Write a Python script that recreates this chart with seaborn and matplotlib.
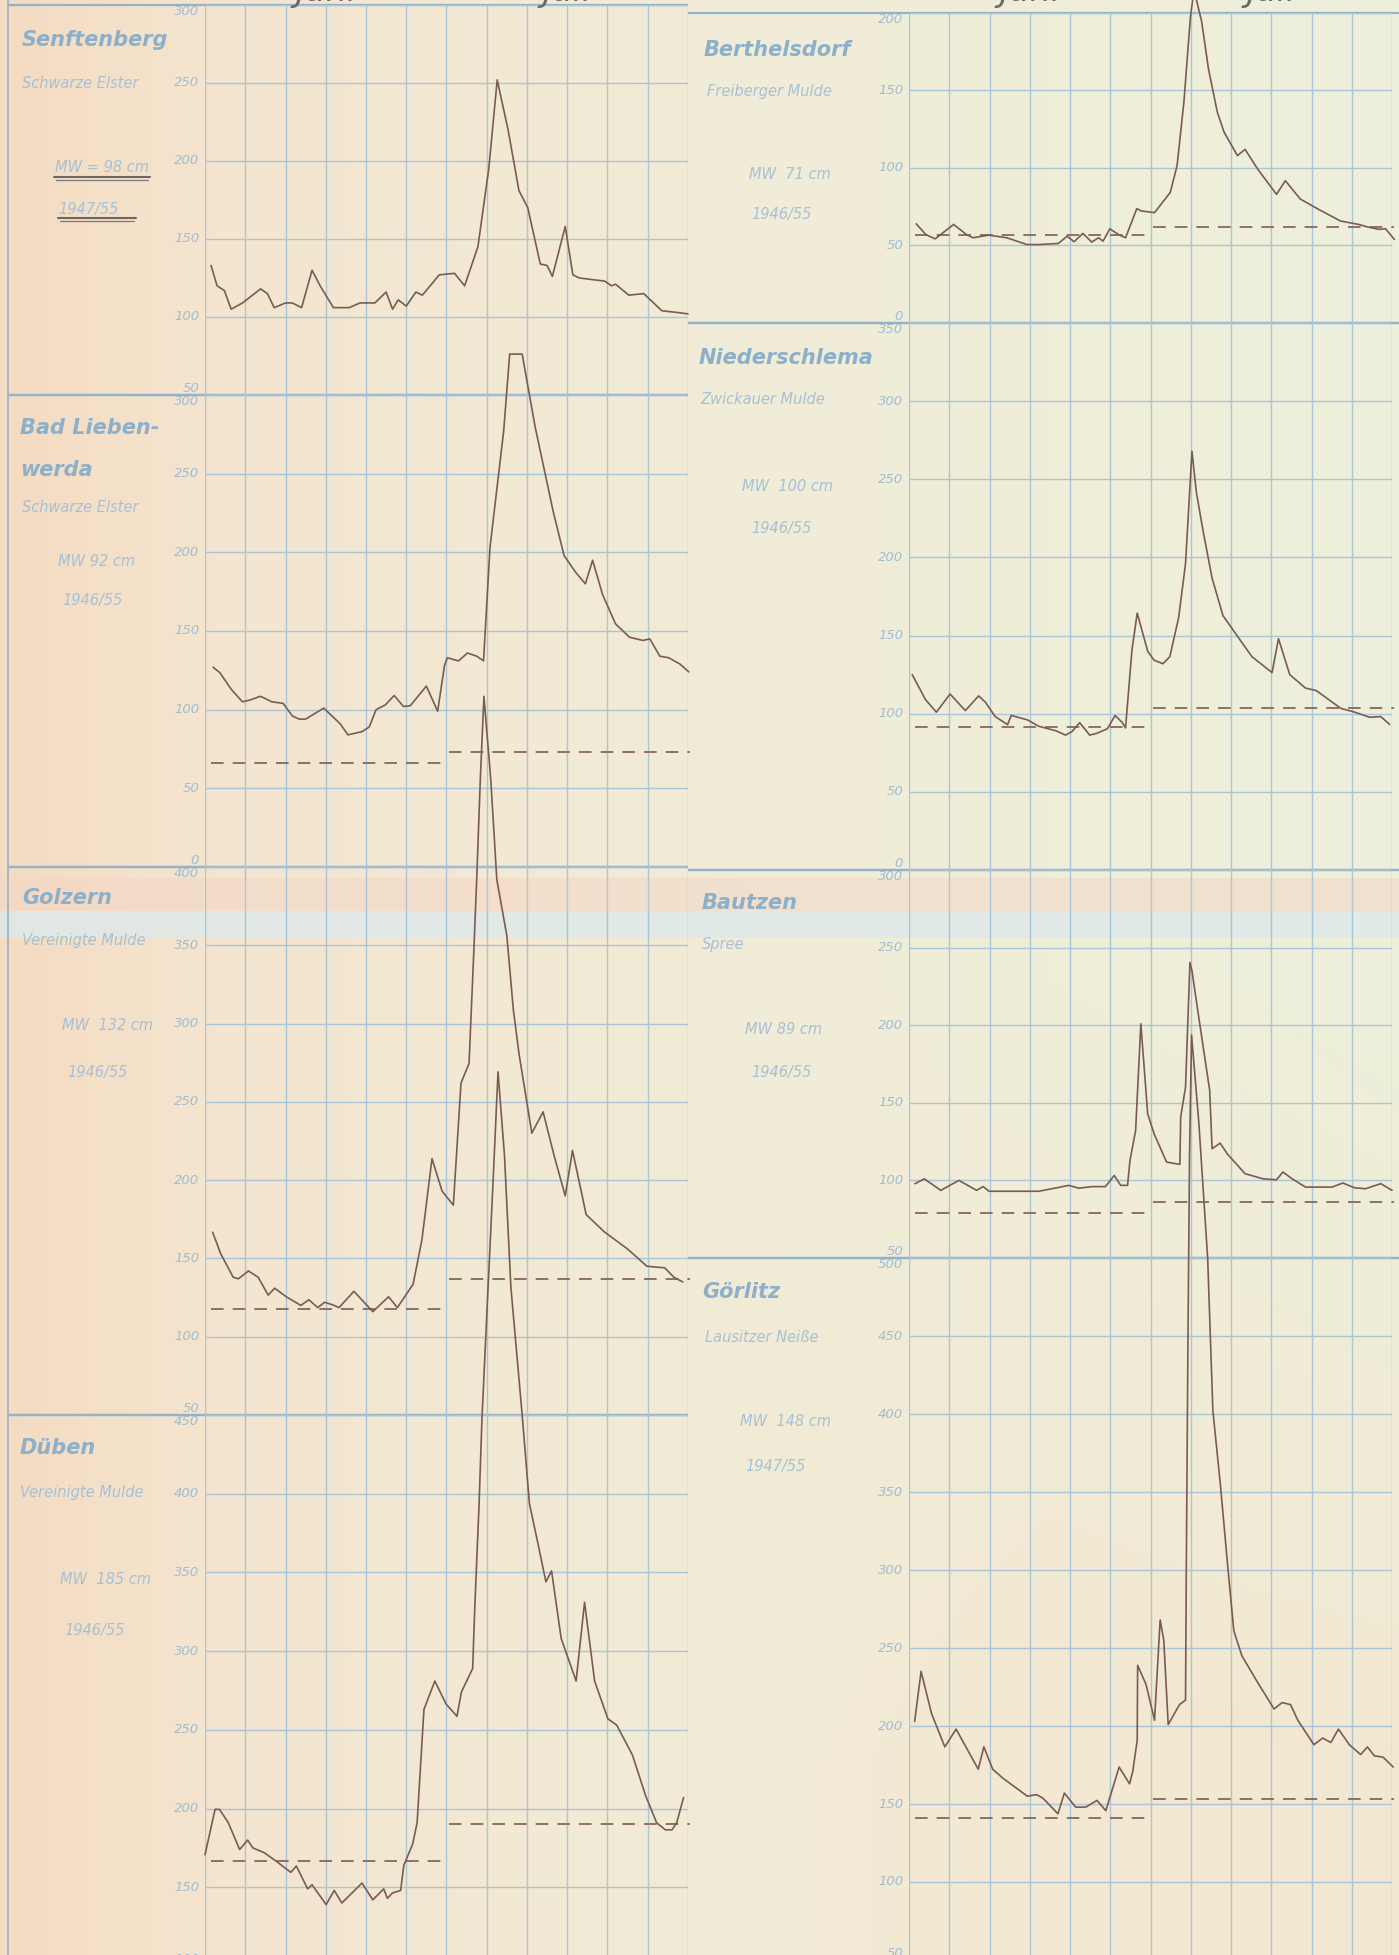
import numpy as np
import matplotlib
matplotlib.use("Agg")
import matplotlib.pyplot as plt
import seaborn as sns

# Wasserstaende Juni/Juli 1954
# x = Pentaden (5-Tage-Abschnitte) ab 1. Juni, y = Wasserstand am Pegel in cm

senftenberg_x = [0.15, 0.3, 0.48, 0.65, 0.93, 1.38, 1.55, 1.72, 2.0, 2.17, 2.4, 2.66, 2.86, 3.19, 3.58,
                 3.85, 4.22, 4.5, 4.66, 4.8, 5.0, 5.24, 5.4, 5.82, 6.2, 6.45, 6.78, 7.05, 7.26, 7.53,
                 7.8, 8.02, 8.33, 8.5, 8.63, 8.95, 9.14, 9.3, 9.93, 10.1, 10.2, 10.53, 10.9, 11.35, 11.7, 12.0]
senftenberg_y = [133, 120, 117, 105, 109, 118, 115, 106, 109, 109, 106, 130, 120, 106, 106,
                 109, 109, 116, 105, 111, 107, 116, 114, 127, 128, 120, 145, 195, 252, 220,
                 181, 170, 134, 133, 126, 158, 127, 125, 123, 120, 121, 114, 115, 104, 103, 102]

liebenwerda_x = [0.2, 0.37, 0.65, 0.93, 1.1, 1.38, 1.66, 1.94, 2.17, 2.34, 2.5, 2.95, 3.36, 3.55, 3.9,
                 4.08, 4.25, 4.48, 4.7, 4.93, 5.1, 5.5, 5.78, 5.95, 6.02, 6.3, 6.52, 6.75, 6.92, 7.08,
                 7.42, 7.57, 7.88, 8.2, 8.65, 8.92, 9.2, 9.45, 9.63, 9.88, 10.2, 10.55, 10.88, 11.05,
                 11.3, 11.52, 11.8, 12.02]
liebenwerda_y = [127, 123.5, 113, 105, 106, 108.5, 105, 104, 96, 94, 94, 101, 91, 84, 86,
                 89, 100, 103, 109, 102, 102.5, 115, 99, 128, 133, 131, 136, 134, 131, 203,
                 277, 326, 326, 280, 226, 198, 187.6, 180, 195, 173, 154.5, 146, 144, 145,
                 134, 133, 129, 124]
liebenwerda_mittel = [66, 73]

golzern_x = [0.19, 0.39, 0.7, 0.83, 1.08, 1.32, 1.57, 1.73, 2.02, 2.38, 2.58, 2.8, 2.97, 3.17, 3.33,
             3.7, 4.17, 4.56, 4.78, 5.17, 5.39, 5.64, 5.89, 6.17, 6.36, 6.56, 6.68, 6.75, 6.84, 6.93,
             7.1, 7.25, 7.5, 7.66, 7.8, 8.12, 8.4, 8.68, 8.95, 9.13, 9.47, 9.92, 10.5, 10.98, 11.42,
             11.65, 11.87]
golzern_y = [166.7, 153, 138, 137, 142, 138, 126.6, 131, 125.5, 120, 123.6, 118.6, 122, 120.4, 118.6,
             129, 116, 125.5, 118.6, 133.5, 162, 213.8, 193, 184, 262, 274.5, 347, 392, 456, 509,
             456, 392, 356, 309, 281, 230, 243.6, 215, 190, 219, 178, 167, 156, 145, 144,
             138, 135]
golzern_mittel = [118, 137]

dueben_x = [0.0, 0.09, 0.25, 0.36, 0.58, 0.86, 1.06, 1.19, 1.47, 1.8, 2.13, 2.27, 2.55, 2.66, 3.01,
            3.21, 3.4, 3.9, 4.17, 4.44, 4.53, 4.66, 4.86, 4.94, 5.16, 5.27, 5.44, 5.71, 5.99, 6.26,
            6.37, 6.65, 6.7, 6.81, 6.88, 7.0, 7.16, 7.28, 7.44, 7.6, 7.88, 8.06, 8.25, 8.47, 8.61,
            8.85, 9.22, 9.43, 9.68, 10.01, 10.23, 10.62, 10.95, 11.22, 11.44, 11.6, 11.72, 11.89]
dueben_y = [170.7, 181, 199.5, 199.5, 191, 174, 180, 175, 172, 166, 159.5, 163.5, 149, 151.6, 139,
            148, 140, 152.7, 142, 149, 143, 146.4, 148, 164, 177.5, 191, 263, 281, 266.4, 258.6,
            274, 289, 326, 393.7, 447, 513, 600, 668, 615, 531, 450, 393.7, 371, 344, 351,
            308, 281, 331, 281, 257, 253, 234, 208, 191, 186.5, 186.5, 191, 207]
dueben_mittel = [167, 190]

berthelsdorf_x = [0.18, 0.42, 0.65, 1.11, 1.43, 1.59, 1.98, 2.43, 2.93, 3.21, 3.71, 3.93, 4.1, 4.32, 4.54,
                  4.71, 4.82, 4.99, 5.21, 5.38, 5.66, 5.77, 6.1, 6.49, 6.66, 6.83, 6.99, 7.08, 7.27, 7.44,
                  7.66, 7.83, 8.16, 8.35, 8.66, 9.13, 9.35, 9.72, 10.17, 10.72, 11.17, 11.39, 11.67, 11.84,
                  12.06]
berthelsdorf_y = [64, 57, 54.3, 63.6, 57, 55, 56.7, 55, 50.6, 50.6, 51.3, 56, 52.4, 57.8, 52.2,
                  55, 52.8, 60.8, 57, 55, 73.8, 72.3, 71.2, 84.2, 101.5, 142.6, 196.8, 215, 194.6, 164,
                  136, 123, 108, 112, 99.4, 83, 91.8, 80, 73.4, 65.8, 63.6, 62, 60.4, 60.8,
                  53.9]
berthelsdorf_mittel = [56.7, 62.1]

niederschlema_x = [0.08, 0.41, 0.68, 1.02, 1.4, 1.73, 1.9, 2.14, 2.45, 2.54, 2.95, 3.22, 3.66, 3.89, 4.05,
                   4.24, 4.49, 4.66, 4.93, 5.12, 5.3, 5.38, 5.54, 5.67, 5.93, 6.09, 6.31, 6.48, 6.7, 6.87,
                   7.03, 7.14, 7.31, 7.53, 7.8, 8.08, 8.52, 9.02, 9.18, 9.46, 9.85, 10.12, 10.73, 11.06,
                   11.45, 11.72, 11.94]
niederschlema_y = [125, 109, 101, 112.6, 102, 111.4, 107.3, 98.2, 93, 98.9, 96, 92, 89, 86.3, 88.6,
                   94.3, 86.3, 87.4, 90.4, 98.9, 94.3, 90.9, 141, 164.4, 140, 134.2, 132, 136.5, 161.6, 196,
                   267.8, 241.6, 216.4, 186.8, 162.8, 152.5, 136.5, 126.3, 148, 125, 116.4, 114.8, 103.4, 101.1,
                   97.7, 98.2, 93.2]
niederschlema_mittel = [91.3, 103.4]

bautzen_x = [0.15, 0.38, 0.79, 1.24, 1.68, 1.84, 1.99, 2.56, 3.22, 3.55, 3.97, 4.22, 4.55, 4.88, 5.1,
             5.26, 5.43, 5.49, 5.63, 5.76, 5.93, 6.09, 6.4, 6.73, 6.75, 6.87, 6.98, 7.03, 7.2, 7.47,
             7.53, 7.73, 7.91, 8.35, 8.8, 9.13, 9.29, 9.52, 9.85, 10.51, 10.78, 11.06, 11.34, 11.72, 12.0]
bautzen_y = [97.9, 101, 93.6, 100, 93.6, 96, 93, 93, 93, 94.6, 96.8, 95, 96, 96, 103.2,
             96.8, 96.8, 112.9, 132, 200.9, 142.9, 130, 111.8, 110.3, 140.8, 160, 240.5, 235, 205, 158,
             120.4, 124, 117, 104.3, 101, 100.4, 105.4, 101, 95.7, 95.7, 98.3, 95.3, 94.6, 97.9, 93.6]
bautzen_mittel = [79, 86]

goerlitz_x = [0.14, 0.3, 0.56, 0.89, 1.17, 1.72, 1.86, 2.08, 2.33, 2.94, 3.17, 3.33, 3.7, 3.86, 4.14,
              4.39, 4.67, 4.89, 5.22, 5.48, 5.56, 5.67, 5.68, 5.89, 6.1, 6.24, 6.33, 6.44, 6.72, 6.87,
              6.89, 6.93, 6.97, 7.02, 7.2, 7.42, 7.55, 7.74, 7.92, 8.07, 8.27, 8.66, 9.07, 9.27, 9.48,
              9.66, 10.06, 10.28, 10.48, 10.67, 10.94, 11.22, 11.39, 11.56, 11.78, 12.03]
goerlitz_y = [202.9, 235, 208, 186.6, 198, 172.3, 186.6, 172.3, 166.6, 155, 156, 153.7, 143.7, 157, 148,
              148, 152.3, 145.7, 173.7, 162.9, 171, 190.9, 238.9, 226.6, 203.7, 268, 255, 200.9, 213.7, 216.6,
              302, 445, 566, 643, 587, 500, 402, 353.7, 302, 261, 245, 228, 210.9, 215, 213.7,
              203.7, 188, 192.3, 189.4, 198, 188, 181.7, 186.6, 180.9, 180, 173.7]
goerlitz_mittel = [141, 153]

monate = ["Juni", "Juli"]

W, H = 1399, 1955
LINE = "#7a5b53"
GRID = "#abc5d8"
BORDER = "#94b3cb"
NAME_COL = "#8cb0ca"
TEXT_COL = "#a6c1d5"
TICK_COL = "#a0bdd2"

# spalte, pixel oben/unten, ylim, textpositionen (x, y)
stationen = [
    dict(name=["Senftenberg"], fluss="Schwarze Elster", mw="MW = 98 cm", reihe="1947/55",
         x=senftenberg_x, y=senftenberg_y, mittel=None, spalte=0, px=(5, 395), ylim=(50, 300),
         pos_name=[(22, 40)], pos_fluss=(22, 83), pos_mw=(55, 167), pos_reihe=(58, 209)),
    dict(name=["Bad Lieben-", "werda"], fluss="Schwarze Elster", mw="MW 92 cm", reihe="1946/55",
         x=liebenwerda_x, y=liebenwerda_y, mittel=liebenwerda_mittel, spalte=0, px=(395, 867), ylim=(0, 300),
         pos_name=[(20, 428), (20, 470)], pos_fluss=(22, 507), pos_mw=(58, 561), pos_reihe=(62, 601)),
    dict(name=["Golzern"], fluss="Vereinigte Mulde", mw="MW  132 cm", reihe="1946/55",
         x=golzern_x, y=golzern_y, mittel=golzern_mittel, spalte=0, px=(867, 1415), ylim=(50, 400),
         pos_name=[(22, 898)], pos_fluss=(22, 940), pos_mw=(62, 1026), pos_reihe=(67, 1072)),
    dict(name=["Düben"], fluss="Vereinigte Mulde", mw="MW  185 cm", reihe="1946/55",
         x=dueben_x, y=dueben_y, mittel=dueben_mittel, spalte=0, px=(1415, 1966), ylim=(100, 450),
         pos_name=[(20, 1448)], pos_fluss=(20, 1492), pos_mw=(60, 1580), pos_reihe=(64, 1630)),
    dict(name=["Berthelsdorf"], fluss="Freiberger Mulde", mw="MW  71 cm", reihe="1946/55",
         x=berthelsdorf_x, y=berthelsdorf_y, mittel=berthelsdorf_mittel, spalte=1, px=(13, 323), ylim=(0, 200),
         pos_name=[(704, 50)], pos_fluss=(707, 91), pos_mw=(749, 174), pos_reihe=(751, 214)),
    dict(name=["Niederschlema"], fluss="Zwickauer Mulde", mw="MW  100 cm", reihe="1946/55",
         x=niederschlema_x, y=niederschlema_y, mittel=niederschlema_mittel, spalte=1, px=(323, 870), ylim=(0, 350),
         pos_name=[(699, 358)], pos_fluss=(700, 399), pos_mw=(742, 486), pos_reihe=(751, 529)),
    dict(name=["Bautzen"], fluss="Spree", mw="MW 89 cm", reihe="1946/55",
         x=bautzen_x, y=bautzen_y, mittel=bautzen_mittel, spalte=1, px=(870, 1258), ylim=(50, 300),
         pos_name=[(702, 903)], pos_fluss=(702, 944), pos_mw=(745, 1030), pos_reihe=(751, 1072)),
    dict(name=["Görlitz"], fluss="Lausitzer Neiße", mw="MW  148 cm", reihe="1947/55",
         x=goerlitz_x, y=goerlitz_y, mittel=goerlitz_mittel, spalte=1, px=(1258, 1960), ylim=(50, 500),
         pos_name=[(702, 1292)], pos_fluss=(705, 1338), pos_mw=(740, 1422), pos_reihe=(745, 1466)),
]

SPALTE_X = [205, 909]
BREITE = 483

sns.set_theme(style="white")
plt.rcParams["font.family"] = ["DejaVu Sans"]

fig = plt.figure(figsize=(W / 100, H / 100), dpi=100)

# --- Papier-Hintergrund ---
bg = fig.add_axes([0, 0, 1, 1], zorder=0)
xs = np.linspace(0, 1, 280)
ys = np.linspace(0, 1, H)
stops = [0, 0.15, 0.5, 1.0]
farben = np.array([[245, 219, 194], [244, 229, 207], [241, 236, 215], [237, 240, 219]], float)
zeile = np.stack([np.interp(xs, stops, farben[:, c]) for c in range(3)], axis=-1)
paper = np.repeat(zeile[None, :, :], H, axis=0)
gx, gy = np.meshgrid(xs, ys)
w = (np.clip((gy - 0.5) / 0.4, 0, 1) * np.clip((gx - 0.45) / 0.3, 0, 1) * 0.65)[..., None]
paper = paper * (1 - w) + np.array([246, 229, 206]) * w
rows = np.arange(H)
pink = (rows >= 878) & (rows < 911)
blau = (rows >= 911) & (rows < 938)
paper[pink] = paper[pink] * 0.45 + np.array([242, 214, 197]) * 0.55
paper[blau] = paper[blau] * 0.15 + np.array([222, 233, 233]) * 0.85
bg.imshow(paper / 255.0, extent=[0, W, H, 0], aspect="auto", interpolation="bilinear")
bg.set_xlim(0, W)
bg.set_ylim(H, 0)
bg.axis("off")

# Rahmenlinien der Felder
for st in stationen:
    xa, xb = (8, 688) if st["spalte"] == 0 else (688, W)
    for yy in st["px"]:
        bg.plot([xa, xb], [yy, yy], color=BORDER, lw=1.6, solid_capstyle="butt")
bg.plot([8, 8], [0, H], color=BORDER, lw=1.2)

# Beschriftung der Pegel
for st in stationen:
    for txt, (tx, ty) in zip(st["name"], st["pos_name"]):
        bg.text(tx, ty, txt, fontsize=15, style="italic", weight="bold", color=NAME_COL,
                ha="left", va="center")
    bg.text(*st["pos_fluss"], st["fluss"], fontsize=10.5, style="italic", color=TEXT_COL,
            ha="left", va="center")
    bg.text(*st["pos_mw"], st["mw"], fontsize=10.5, style="italic", color=TEXT_COL,
            ha="left", va="center")
    bg.text(*st["pos_reihe"], st["reihe"], fontsize=10.5, style="italic", color=TEXT_COL,
            ha="left", va="center")

# Bleistift-Unterstreichung bei Senftenberg
for (xa, xb, yy) in [(54, 150, 177), (58, 136, 218)]:
    bg.plot([xa, xb], [yy, yy], color="#6d6763", lw=1.5)
    bg.plot([xa + 2, xb - 2], [yy + 3, yy + 3], color="#7d7773", lw=0.9)

# Kopfzeile (Monate, am oberen Rand abgeschnitten)
for x0 in SPALTE_X:
    for i, m in enumerate(monate):
        fig.text((x0 + BREITE * (0.25 + 0.5 * i)) / W, 1.0 + 9 / H, m, fontsize=24, style="italic",
                 color="#6a6870", ha="center", va="center")

# --- Ganglinien ---
for st in stationen:
    top, bottom = st["px"]
    x0 = SPALTE_X[st["spalte"]]
    ax = fig.add_axes([x0 / W, 1 - bottom / H, BREITE / W, (bottom - top) / H], zorder=1)
    ax.patch.set_alpha(0)
    lo, hi = st["ylim"]
    ax.set_xlim(0, 12)
    ax.set_ylim(lo, hi)
    ax.set_xticks(np.arange(13))
    ax.set_yticks(np.arange(lo, hi + 1, 50))
    ax.tick_params(length=0, labelbottom=False, labelleft=False)
    ax.grid(True, color=GRID, lw=1.0)
    for sp in ax.spines.values():
        sp.set_visible(False)

    for v in np.arange(lo, hi + 1, 50):
        va = "top" if v == hi else ("bottom" if v == lo else "center")
        ax.text(-0.012, v, f"{v:d}", transform=ax.get_yaxis_transform(), ha="right", va=va,
                fontsize=9.5, style="italic", color=TICK_COL)

    if st["mittel"] is not None:
        for (xa, xb), m in zip([(0.15, 6.0), (6.05, 12.05)], st["mittel"]):
            sns.lineplot(x=[xa, xb], y=[m, m], ax=ax, color="#86675c", lw=1.3,
                         linestyle=(0, (7, 5)), clip_on=False, legend=False)

    sns.lineplot(x=st["x"], y=st["y"], ax=ax, color=LINE, lw=1.2, sort=False, estimator=None,
                 clip_on=False, legend=False)
    ax.set_xlabel("")
    ax.set_ylabel("")

fig.savefig("out.png", dpi=100)
